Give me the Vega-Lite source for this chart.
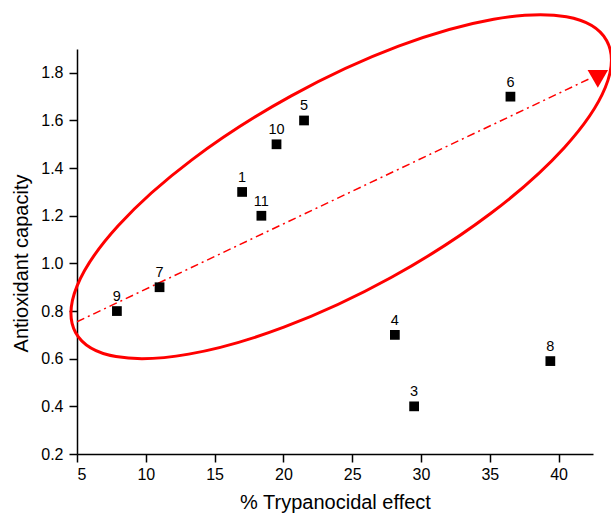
{
  "$schema": "https://vega.github.io/schema/vega-lite/v6.json",
  "autosize": {"type": "none"},
  "padding": {"left": 77, "top": 49, "right": 18, "bottom": 61},
  "width": 516,
  "height": 405,
  "config": {
    "view": {"stroke": null},
    "font": "Liberation Sans",
    "axis": {
      "domainColor": "#000000",
      "domainWidth": 1.5,
      "tickColor": "#000000",
      "tickWidth": 1.5,
      "labelColor": "#000000",
      "labelFont": "Liberation Sans",
      "labelFontSize": 16,
      "titleFont": "Liberation Sans",
      "titleFontSize": 20,
      "titleFontWeight": "normal",
      "titleColor": "#000000",
      "grid": false
    }
  },
  "datasets": {
    "points": [
      {"effect": 17.0, "capacity": 1.30, "label": "1"},
      {"effect": 29.5, "capacity": 0.40, "label": "3"},
      {"effect": 28.1, "capacity": 0.70, "label": "4"},
      {"effect": 21.5, "capacity": 1.60, "label": "5"},
      {"effect": 36.5, "capacity": 1.70, "label": "6"},
      {"effect": 11.0, "capacity": 0.90, "label": "7"},
      {"effect": 39.4, "capacity": 0.59, "label": "8"},
      {"effect": 7.9, "capacity": 0.80, "label": "9"},
      {"effect": 19.5, "capacity": 1.50, "label": "10"},
      {"effect": 18.4, "capacity": 1.20, "label": "11"}
    ],
    "trend": [
      {"effect": 5.0, "capacity": 0.755},
      {"effect": 42.2, "capacity": 1.774}
    ],
    "arrow": [
      {"effect": 42.85, "capacity": 1.775}
    ],
    "ellipse": [
      {"effect": 24.2, "capacity": 1.322}
    ]
  },
  "layer": [
    {
      "data": {"name": "ellipse"},
      "mark": {
        "type": "point",
        "shape": "M 1 0 C 1 0.1889 0.5523 0.342 0 0.342 C -0.5523 0.342 -1 0.1889 -1 0 C -1 -0.1889 -0.5523 -0.342 0 -0.342 C 0.5523 -0.342 1 -0.1889 1 0 Z",
        "size": 367236,
        "angle": 331.2,
        "filled": false,
        "color": "#ff0000",
        "stroke": "#ff0000",
        "strokeWidth": 3,
        "opacity": 1
      },
      "encoding": {
        "x": {"field": "effect", "type": "quantitative", "scale": {"domain": [5, 42.5], "nice": false, "zero": false}},
        "y": {"field": "capacity", "type": "quantitative", "scale": {"domain": [0.2, 1.9], "nice": false, "zero": false}}
      }
    },
    {
      "data": {"name": "trend"},
      "mark": {"type": "line", "color": "#ff0000", "strokeWidth": 1.5, "strokeDash": [8, 4, 2, 4]},
      "encoding": {
        "x": {"field": "effect", "type": "quantitative"},
        "y": {"field": "capacity", "type": "quantitative"}
      }
    },
    {
      "data": {"name": "arrow"},
      "mark": {"type": "point", "shape": "triangle-down", "size": 420, "filled": true, "color": "#ff0000", "opacity": 1},
      "encoding": {
        "x": {"field": "effect", "type": "quantitative"},
        "y": {"field": "capacity", "type": "quantitative"}
      }
    },
    {
      "data": {"name": "points"},
      "mark": {"type": "point", "shape": "square", "size": 95, "filled": true, "color": "#000000", "opacity": 1},
      "encoding": {
        "x": {
          "field": "effect", "type": "quantitative",
          "axis": {
            "title": "% Trypanocidal effect",
            "values": [5, 7.5, 10, 12.5, 15, 17.5, 20, 22.5, 25, 27.5, 30, 32.5, 35, 37.5, 40, 42.5],
            "labelExpr": "datum.value % 5 === 0 ? datum.value : ''",
            "tickSize": {"condition": {"test": "datum.value % 5 !== 0", "value": 4}, "value": 8},
            "labelPadding": 4,
            "titlePadding": 10
          }
        },
        "y": {
          "field": "capacity", "type": "quantitative",
          "axis": {
            "title": "Antioxidant capacity",
            "values": [0.2, 0.3, 0.4, 0.5, 0.6, 0.7, 0.8, 0.9, 1.0, 1.1, 1.2, 1.3, 1.4, 1.5, 1.6, 1.7, 1.8, 1.9],
            "labelExpr": "round(datum.value * 10) % 2 === 0 ? format(datum.value, '.1f') : ''",
            "tickSize": {"condition": {"test": "round(datum.value * 10) % 2 !== 0", "value": 4}, "value": 8},
            "labelPadding": 6,
            "titlePadding": 9,
            "titleY": 214
          }
        }
      }
    },
    {
      "data": {"name": "points"},
      "mark": {"type": "text", "dy": -10, "baseline": "alphabetic", "fontSize": 14.5, "font": "Liberation Sans", "color": "#000000"},
      "encoding": {
        "x": {"field": "effect", "type": "quantitative"},
        "y": {"field": "capacity", "type": "quantitative"},
        "text": {"field": "label"}
      }
    }
  ]
}
